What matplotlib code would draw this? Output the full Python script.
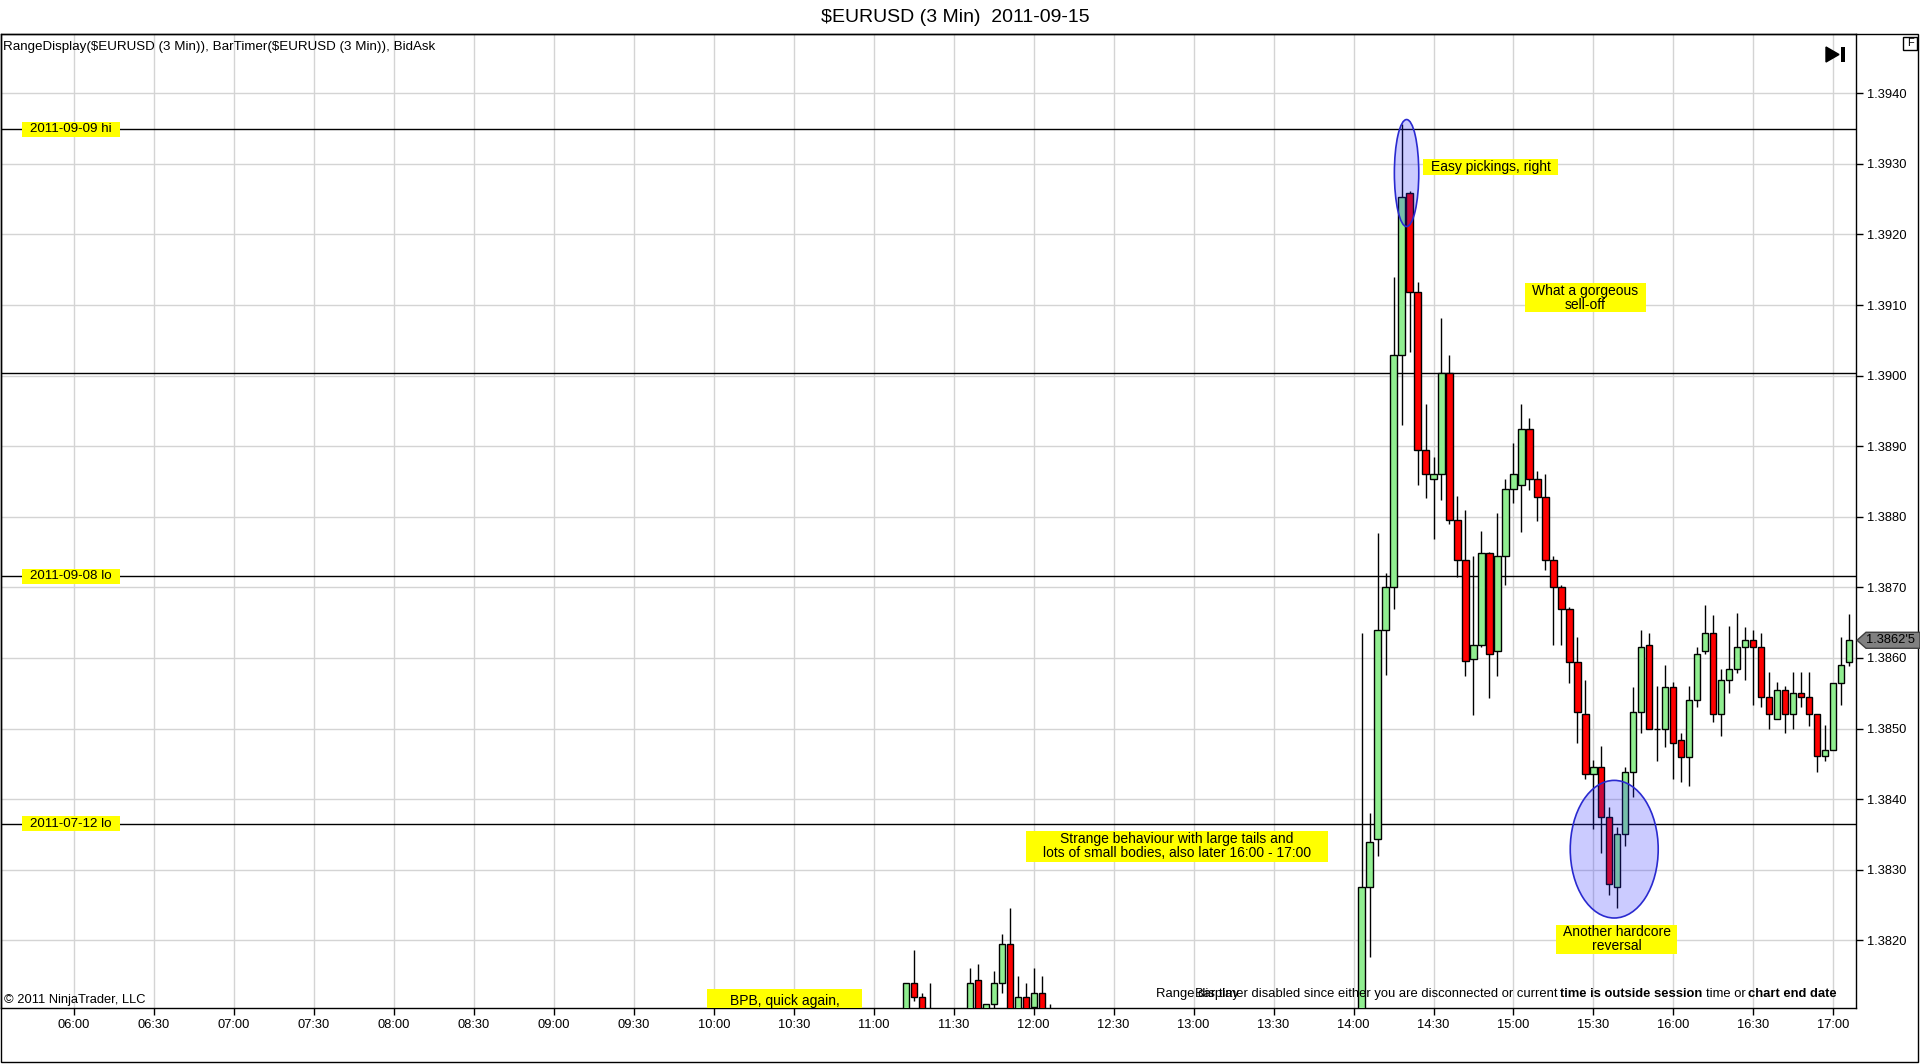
import matplotlib
matplotlib.use("Agg")
import matplotlib.pyplot as plt
from matplotlib.patches import Rectangle, Ellipse, Polygon
from matplotlib.transforms import IdentityTransform

plt.rcParams['font.family'] = ['Liberation Sans', 'DejaVu Sans']

# ---------------- data ----------------
title = "$EURUSD (3 Min)  2011-09-15"
indicator_text = "RangeDisplay($EURUSD (3 Min)), BarTimer($EURUSD (3 Min)), BidAsk"
copyright_text = "\u00a9 2011 NinjaTrader, LLC"

bar_times = [
    "11:12", "11:15", "11:18", "11:21", "11:36", "11:39", "11:42", "11:45", "11:48",
    "11:51", "11:54", "11:57", "12:00", "12:03", "12:06",
    "14:03", "14:06", "14:09", "14:12", "14:15", "14:18", "14:21", "14:24", "14:27",
    "14:30", "14:33", "14:36", "14:39", "14:42", "14:45", "14:48", "14:51", "14:54",
    "14:57", "15:00", "15:03", "15:06", "15:09", "15:12", "15:15", "15:18", "15:21",
    "15:24", "15:27", "15:30", "15:33", "15:36", "15:39", "15:42", "15:45", "15:48",
    "15:51", "15:54", "15:57", "16:00", "16:03", "16:06", "16:09", "16:12", "16:15",
    "16:18", "16:21", "16:24", "16:27", "16:30", "16:33", "16:36", "16:39", "16:42",
    "16:45", "16:48", "16:51", "16:54", "16:57", "17:00", "17:03", "17:06",
]
opens = [
    1.38080, 1.38140, 1.38120, 1.38090, 1.38080, 1.38144, 1.38080, 1.38110, 1.38140,
    1.38195, 1.38080, 1.38120, 1.38106, 1.38125, 1.38080,
    1.38090, 1.38276, 1.38344, 1.38639, 1.38700, 1.39029, 1.39259, 1.39119, 1.38894,
    1.38854, 1.38860, 1.39004, 1.38795, 1.38739, 1.38599, 1.38619, 1.38749, 1.38610,
    1.38744, 1.38839, 1.38845, 1.38924, 1.38854, 1.38828, 1.38739, 1.38700, 1.38670,
    1.38594, 1.38520, 1.38435, 1.38445, 1.38375, 1.38275, 1.38350, 1.38438, 1.38524,
    1.38619, 1.38500, 1.38500, 1.38559, 1.38484, 1.38460, 1.38540, 1.38610, 1.38635,
    1.38520, 1.38569, 1.38585, 1.38615, 1.38625, 1.38615, 1.38544, 1.38514, 1.38555,
    1.38520, 1.38550, 1.38544, 1.38520, 1.38461, 1.38470, 1.38565, 1.38594,
]
highs = [
    1.38140, 1.38186, 1.38125, 1.38140, 1.38160, 1.38166, 1.38110, 1.38156, 1.38209,
    1.38245, 1.38150, 1.38140, 1.38160, 1.38150, 1.38110,
    1.38635, 1.38380, 1.38777, 1.38720, 1.39140, 1.39357, 1.39262, 1.39133, 1.38960,
    1.38885, 1.39081, 1.39029, 1.38829, 1.38809, 1.38744, 1.38780, 1.38750, 1.38805,
    1.38854, 1.38905, 1.38960, 1.38940, 1.38865, 1.38860, 1.38744, 1.38704, 1.38672,
    1.38630, 1.38569, 1.38455, 1.38475, 1.38389, 1.38361, 1.38446, 1.38559, 1.38639,
    1.38635, 1.38560, 1.38590, 1.38566, 1.38494, 1.38560, 1.38616, 1.38675, 1.38661,
    1.38585, 1.38645, 1.38664, 1.38644, 1.38639, 1.38635, 1.38580, 1.38566, 1.38560,
    1.38580, 1.38580, 1.38580, 1.38520, 1.38505, 1.38565, 1.38630, 1.38662,
]
lows = [
    1.38070, 1.38114, 1.38070, 1.38060, 1.38070, 1.38070, 1.38070, 1.38080, 1.38125,
    1.38070, 1.38070, 1.38070, 1.38090, 1.38070, 1.38060,
    1.38070, 1.38176, 1.38320, 1.38576, 1.38670, 1.38930, 1.39034, 1.38845, 1.38826,
    1.38769, 1.38824, 1.38790, 1.38715, 1.38574, 1.38519, 1.38616, 1.38543, 1.38574,
    1.38703, 1.38819, 1.38779, 1.38838, 1.38794, 1.38724, 1.38619, 1.38619, 1.38565,
    1.38480, 1.38429, 1.38358, 1.38323, 1.38264, 1.38245, 1.38333, 1.38403, 1.38494,
    1.38500, 1.38454, 1.38474, 1.38429, 1.38424, 1.38418, 1.38530, 1.38605, 1.38509,
    1.38490, 1.38550, 1.38579, 1.38569, 1.38533, 1.38530, 1.38500, 1.38514, 1.38494,
    1.38500, 1.38530, 1.38504, 1.38438, 1.38454, 1.38470, 1.38533, 1.38588,
]
closes = [
    1.38140, 1.38120, 1.38080, 1.38080, 1.38140, 1.38080, 1.38110, 1.38140, 1.38195,
    1.38080, 1.38120, 1.38080, 1.38125, 1.38080, 1.38090,
    1.38276, 1.38339, 1.38639, 1.38700, 1.39029, 1.39253, 1.39119, 1.38894, 1.38860,
    1.38860, 1.39004, 1.38795, 1.38739, 1.38595, 1.38619, 1.38749, 1.38605, 1.38744,
    1.38839, 1.38860, 1.38924, 1.38854, 1.38828, 1.38739, 1.38700, 1.38670, 1.38594,
    1.38524, 1.38435, 1.38445, 1.38375, 1.38280, 1.38350, 1.38438, 1.38524, 1.38615,
    1.38500, 1.38500, 1.38559, 1.38480, 1.38460, 1.38540, 1.38605, 1.38635, 1.38520,
    1.38569, 1.38585, 1.38615, 1.38625, 1.38615, 1.38544, 1.38520, 1.38555, 1.38520,
    1.38550, 1.38544, 1.38520, 1.38461, 1.38470, 1.38565, 1.38590, 1.38625,
]

level_names = ["2011-09-09 hi", "", "2011-09-08 lo", "2011-07-12 lo"]
level_prices = [1.39349, 1.39003, 1.38716, 1.38365]

x_tick_labels = ["06:00", "06:30", "07:00", "07:30", "08:00", "08:30", "09:00", "09:30",
                 "10:00", "10:30", "11:00", "11:30", "12:00", "12:30", "13:00", "13:30",
                 "14:00", "14:30", "15:00", "15:30", "16:00", "16:30", "17:00"]
y_ticks = [1.3820, 1.3830, 1.3840, 1.3850, 1.3860, 1.3870, 1.3880, 1.3890,
           1.3900, 1.3910, 1.3920, 1.3930, 1.3940]
last_price = 1.38625
last_price_label = "1.3862'5"

# annotation boxes (time in minutes, price)
note_texts = ["Easy pickings, right", "What a gorgeous\nsell-off",
              "Strange behaviour with large tails and\nlots of small bodies, also later 16:00 - 17:00",
              "Another hardcore\nreversal", "BPB, quick again,"]
note_t0 = [866.1, 904.3, 717.1, 916.0, 597.5]
note_t1 = [916.7, 949.7, 830.4, 961.4, 655.6]
note_p0 = [1.39284, 1.39090, 1.38311, 1.38181, 1.38098]
note_p1 = [1.39307, 1.39131, 1.38355, 1.38222, 1.38131]

ellipse_t = [859.9, 937.8]
ellipse_p = [1.39287, 1.38329]
ellipse_w = [9.15, 33.0]
ellipse_h = [0.001516, 0.00195]

# ---------------- figure ----------------
W, H = 1920, 1064
fig = plt.figure(figsize=(W / 100, H / 100), dpi=100)
fig.patch.set_facecolor("white")


def tomin(s):
    h, m = s.split(":")
    return int(h) * 60 + int(m)


ax = fig.add_axes([1 / W, 1 - 1008 / H, 1855 / W, (1008 - 34) / H])
ax.set_xlim(332.6, 1028.5)
ax.set_ylim(1.38104, 1.39484)

xt = [tomin(s) for s in x_tick_labels]
ax.set_xticks(xt)
ax.set_xticklabels(x_tick_labels)
ax.set_yticks(y_ticks)
ax.set_yticklabels([f"{v:.4f}" for v in y_ticks])
ax.yaxis.tick_right()
ax.tick_params(axis="both", direction="out", length=5, width=1, labelsize=9.3, colors="black")
ax.tick_params(axis="x", pad=3)
ax.tick_params(axis="y", pad=3)
ax.grid(True, color="#d4d4d4", lw=1)
ax.set_axisbelow(True)
for sp in ax.spines.values():
    sp.set_color("black")
    sp.set_linewidth(1)

# level lines
for p in level_prices:
    ax.axhline(p, color="black", lw=1, zorder=1.5)
for name, p in zip(level_names, level_prices):
    if name:
        ax.add_patch(Rectangle((340.5, p - 0.000106), 36.7, 0.000212, facecolor="#ffff00",
                               edgecolor="none", zorder=1.6))
        ax.text(358.85, p, name, fontsize=9.6, ha="center", va="center", zorder=1.7,
                parse_math=False)

# candles
xs = [tomin(s) for s in bar_times]
ax.vlines(xs, lows, highs, color="black", lw=1, zorder=2)
body_w = 2.3
for x, o, c in zip(xs, opens, closes):
    col = "#90ee90" if c >= o else "#ff0000"
    ax.add_patch(Rectangle((x - body_w / 2, min(o, c)), body_w, abs(c - o),
                           facecolor=col, edgecolor="black", lw=1, zorder=3))

# ellipses
for t, p, w, h in zip(ellipse_t, ellipse_p, ellipse_w, ellipse_h):
    ax.add_patch(Ellipse((t, p), w, h, facecolor=(0.15, 0.15, 1.0, 0.24),
                         edgecolor="#2a2ad0", lw=1.2, zorder=4))

# notes
for txt, t0, t1, p0, p1 in zip(note_texts, note_t0, note_t1, note_p0, note_p1):
    ax.add_patch(Rectangle((t0, p0), t1 - t0, p1 - p0, facecolor="#ffff00",
                           edgecolor="none", zorder=5))
    ax.text((t0 + t1) / 2, (p0 + p1) / 2, txt, fontsize=10, ha="center", va="center",
            linespacing=1.0, zorder=6, parse_math=False)

# texts in the figure
fig.text(955 / W, 1 - 17 / H, title, fontsize=14, ha="center", va="center", parse_math=False)
fig.text(3 / W, 1 - 47 / H, indicator_text, fontsize=9.6, ha="left", va="center",
         parse_math=False)
fig.text(4 / W, 1 - 1000 / H, copyright_text, fontsize=9.3, ha="left", va="center")

# bar timer message (mixed weights), right aligned
renderer = fig.canvas.get_renderer()
segments = [("Bar timer disabled since either you are disconnected or current", "normal"),
            ("time is outside session", "bold"),
            ("time or", "normal"),
            ("chart end date", "bold")]
msg_size = 9.4
space_w = 3.1
objs, widths = [], []
for s, wt in segments:
    tt = fig.text(0, 0, s, fontsize=msg_size, fontweight=wt, ha="left", va="center")
    widths.append(tt.get_window_extent(renderer).width)
    objs.append(tt)
total = sum(widths) + space_w * (len(widths) - 1)
xcur = 1837 - total
for tt, wdt in zip(objs, widths):
    tt.set_position((xcur / W, 1 - 994 / H))
    xcur += wdt + space_w
fig.text(1156 / W, 1 - 994 / H, "Range display", fontsize=msg_size, ha="left", va="center")

# outer frame
fig.patches.append(Rectangle((0.5 / W, 1 - 1062 / H), 1917 / W, (1062 - 34) / H,
                             transform=fig.transFigure, fill=False, ec="black", lw=1))
# F box
fig.patches.append(Rectangle((1903 / W, 1 - 50 / H), 14 / W, 13 / H,
                             transform=fig.transFigure, fill=False, ec="black", lw=1))
fig.text(1910 / W, 1 - 43.5 / H, "F", fontsize=8, ha="center", va="center")
# skip-to-end icon
fig.patches.append(Polygon([(1826 / W, 1 - 47 / H), (1826 / W, 1 - 62 / H), (1839 / W, 1 - 54.5 / H)],
                           closed=True, transform=fig.transFigure, fc="black", ec="black"))
fig.patches.append(Rectangle((1841 / W, 1 - 62 / H), 4 / W, 15 / H,
                             transform=fig.transFigure, fc="black", ec="none"))

# last price marker
yd = ax.transData.transform((900, last_price))[1]
xr = ax.transAxes.transform((1, 0))[0]
marker = Polygon([(xr + 1, yd), (xr + 10, yd + 8), (W, yd + 8), (W, yd - 8), (xr + 10, yd - 8)],
                 closed=True, transform=IdentityTransform(), fc="#808080", ec="#404040", lw=1)
fig.patches.append(marker)
fig.text((xr + 10) / W, yd / H, last_price_label, fontsize=9.3, ha="left", va="center")

fig.savefig("out.png", dpi=100)
